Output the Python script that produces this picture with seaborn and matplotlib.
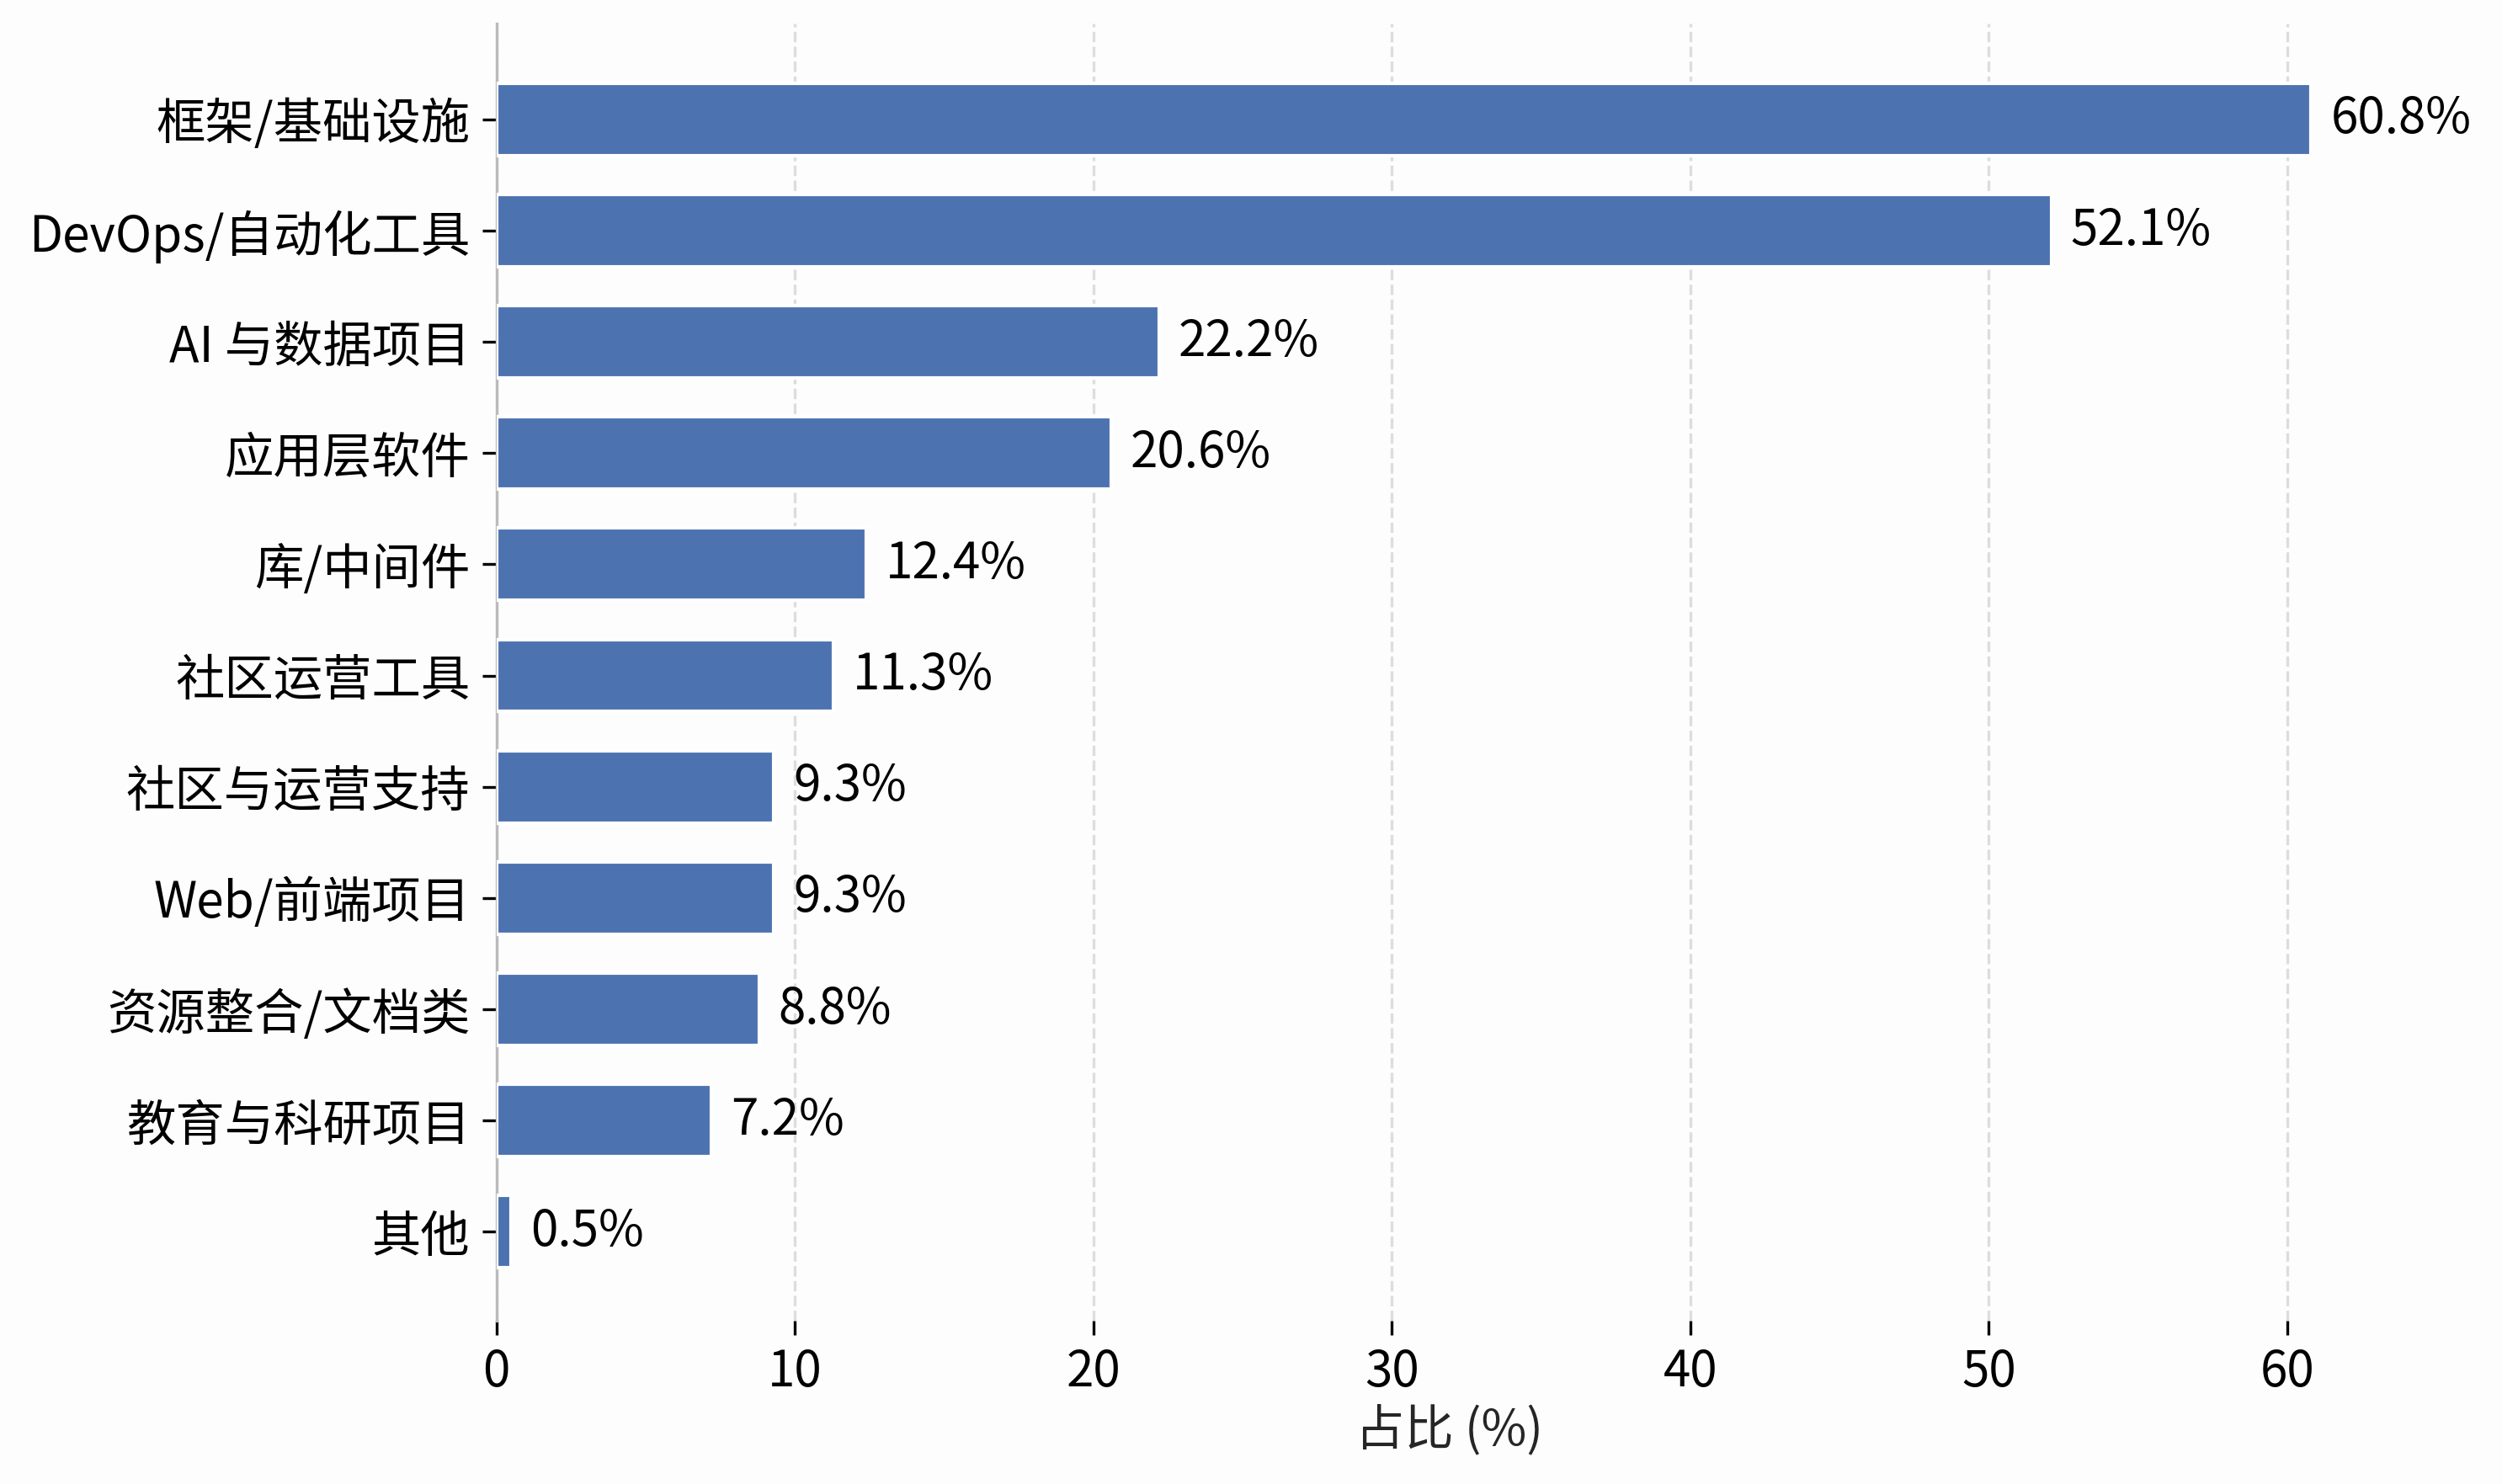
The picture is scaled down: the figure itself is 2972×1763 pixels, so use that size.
import pandas as pd
import seaborn as sns
import matplotlib.pyplot as plt

# Data
categories = ['框架/基础设施', 'DevOps/自动化工具', 'AI 与数据项目', '应用层软件', '库/中间件',
              '社区运营工具', '社区与运营支持', 'Web/前端项目', '资源整合/文档类', '教育与科研项目', '其他']
shares = [60.8, 52.1, 22.2, 20.6, 12.4, 11.3, 9.3, 9.3, 8.8, 7.2, 0.5]

df = pd.DataFrame({'category': categories, 'share': shares})

sns.set_theme(style='white')
plt.rcParams['font.family'] = ['Noto Sans CJK SC', 'DejaVu Sans']

fig, ax = plt.subplots(figsize=(9.907, 5.877), dpi=300)
fig.subplots_adjust(left=0.1984, right=0.960, top=0.984, bottom=0.110)

sns.barplot(data=df, y='category', x='share', color='#4C72B0', width=0.65,
            saturation=1, ax=ax, zorder=3)

for i, v in enumerate(shares):
    ax.annotate(f'{v}%', xy=(v, i), xytext=(5.5, 0), textcoords='offset points',
                ha='left', va='center', fontsize=14, color='black', clip_on=False)

ax.set_xlim(0, max(shares) * 1.05)
ax.set_ylim(10.8, -0.86)
ax.set_xticks([0, 10, 20, 30, 40, 50, 60])
ax.grid(axis='x', linestyle='--', color='#dddddd', linewidth=0.8, zorder=0)
ax.set_ylabel('')
ax.set_xlabel('占比 (%)', fontsize=14, labelpad=2)
ax.tick_params(axis='both', labelsize=14, colors='black', length=4, width=0.8,
               left=True, bottom=True)
ax.set_facecolor('#fdfdfd')

for side in ['top', 'right', 'bottom']:
    ax.spines[side].set_visible(False)
ax.spines['left'].set_color('#bbbbbb')
ax.spines['left'].set_linewidth(0.8)

fig.savefig('out.png', dpi=300, facecolor='#fdfdfd')
